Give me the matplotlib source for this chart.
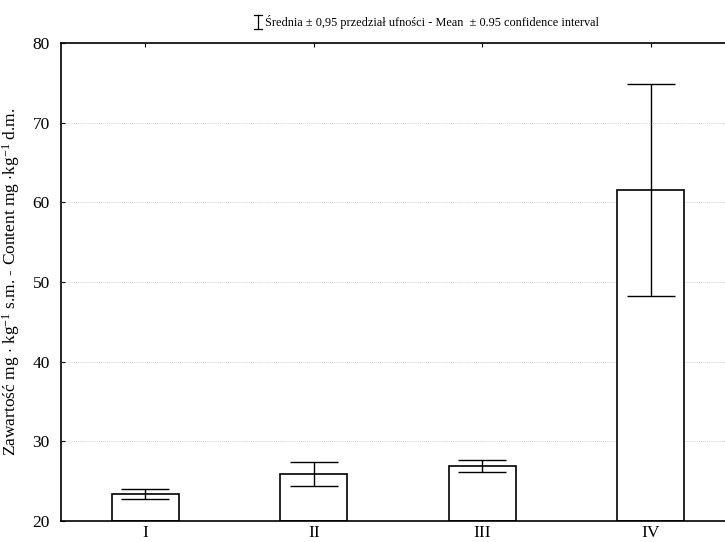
import matplotlib
matplotlib.use("Agg")
import matplotlib.pyplot as plt
from matplotlib.lines import Line2D

plt.rcParams['font.family'] = ['Liberation Serif', 'DejaVu Serif']
plt.rcParams['mathtext.fontset'] = 'custom'
plt.rcParams['mathtext.rm'] = 'Liberation Serif'
plt.rcParams['mathtext.it'] = 'Liberation Serif:italic'

# dane
kategorie = ['I', 'II', 'III', 'IV']
srednie = [23.4, 25.9, 26.9, 61.6]
przedzial = [0.65, 1.5, 0.75, 13.3]

fig = plt.figure(figsize=(7.25, 5.42), dpi=100)
# os wychodzi poza prawa krawedz obrazka, tak jak w oryginale
ax = fig.add_axes([61 / 725, 1 - 521 / 542, (735 - 61) / 725, (521 - 43) / 542])

x = list(range(1, len(kategorie) + 1))
ax.bar(x, [s - 20 for s in srednie], bottom=20, width=0.4, color='white',
       edgecolor='black', linewidth=1.2, zorder=2)
ax.errorbar(x, srednie, yerr=przedzial, fmt='none', ecolor='black',
            elinewidth=1.0, capsize=17, capthick=1.0, zorder=3)

ax.set_xlim(0.5, 4.5)
ax.set_ylim(20, 80)
ax.set_yticks([20, 30, 40, 50, 60, 70, 80])
ax.set_xticks(x)
ax.set_xticklabels(kategorie)
ax.tick_params(axis='both', direction='in', length=3, width=0.8, labelsize=12.5)
ax.tick_params(axis='x', top=True, pad=3)
ax.tick_params(axis='y', pad=8)
ax.yaxis.grid(True, linestyle=(0, (1, 1.5)), color='#c0c0c0', linewidth=0.6, zorder=0)
ax.set_axisbelow(True)
for s in ax.spines.values():
    s.set_linewidth(1.2)

ax.set_ylabel(r'Zawartość mg $\cdot$ kg$^{-1}$ s.m. - Content mg $\cdot$kg$^{-1}$ d.m.',
              fontsize=12.5)
ax.yaxis.set_label_coords(-0.058, 0.5)

# legenda na gorze
xs, yt, yb = 258 / 725, 1 - 15 / 542, 1 - 29 / 542
fig.add_artist(Line2D([xs, xs], [yb, yt], color='black', lw=0.9))
fig.add_artist(Line2D([xs - 4 / 725, xs + 4 / 725], [yt, yt], color='black', lw=0.9))
fig.add_artist(Line2D([xs - 4 / 725, xs + 4 / 725], [yb, yb], color='black', lw=0.9))
fig.text(265 / 725, 1 - 22 / 542,
         'Średnia ± 0,95 przedział ufności - Mean  ± 0.95 confidence interval',
         fontsize=8.8, va='center', ha='left')

fig.savefig('out.png', dpi=100)
